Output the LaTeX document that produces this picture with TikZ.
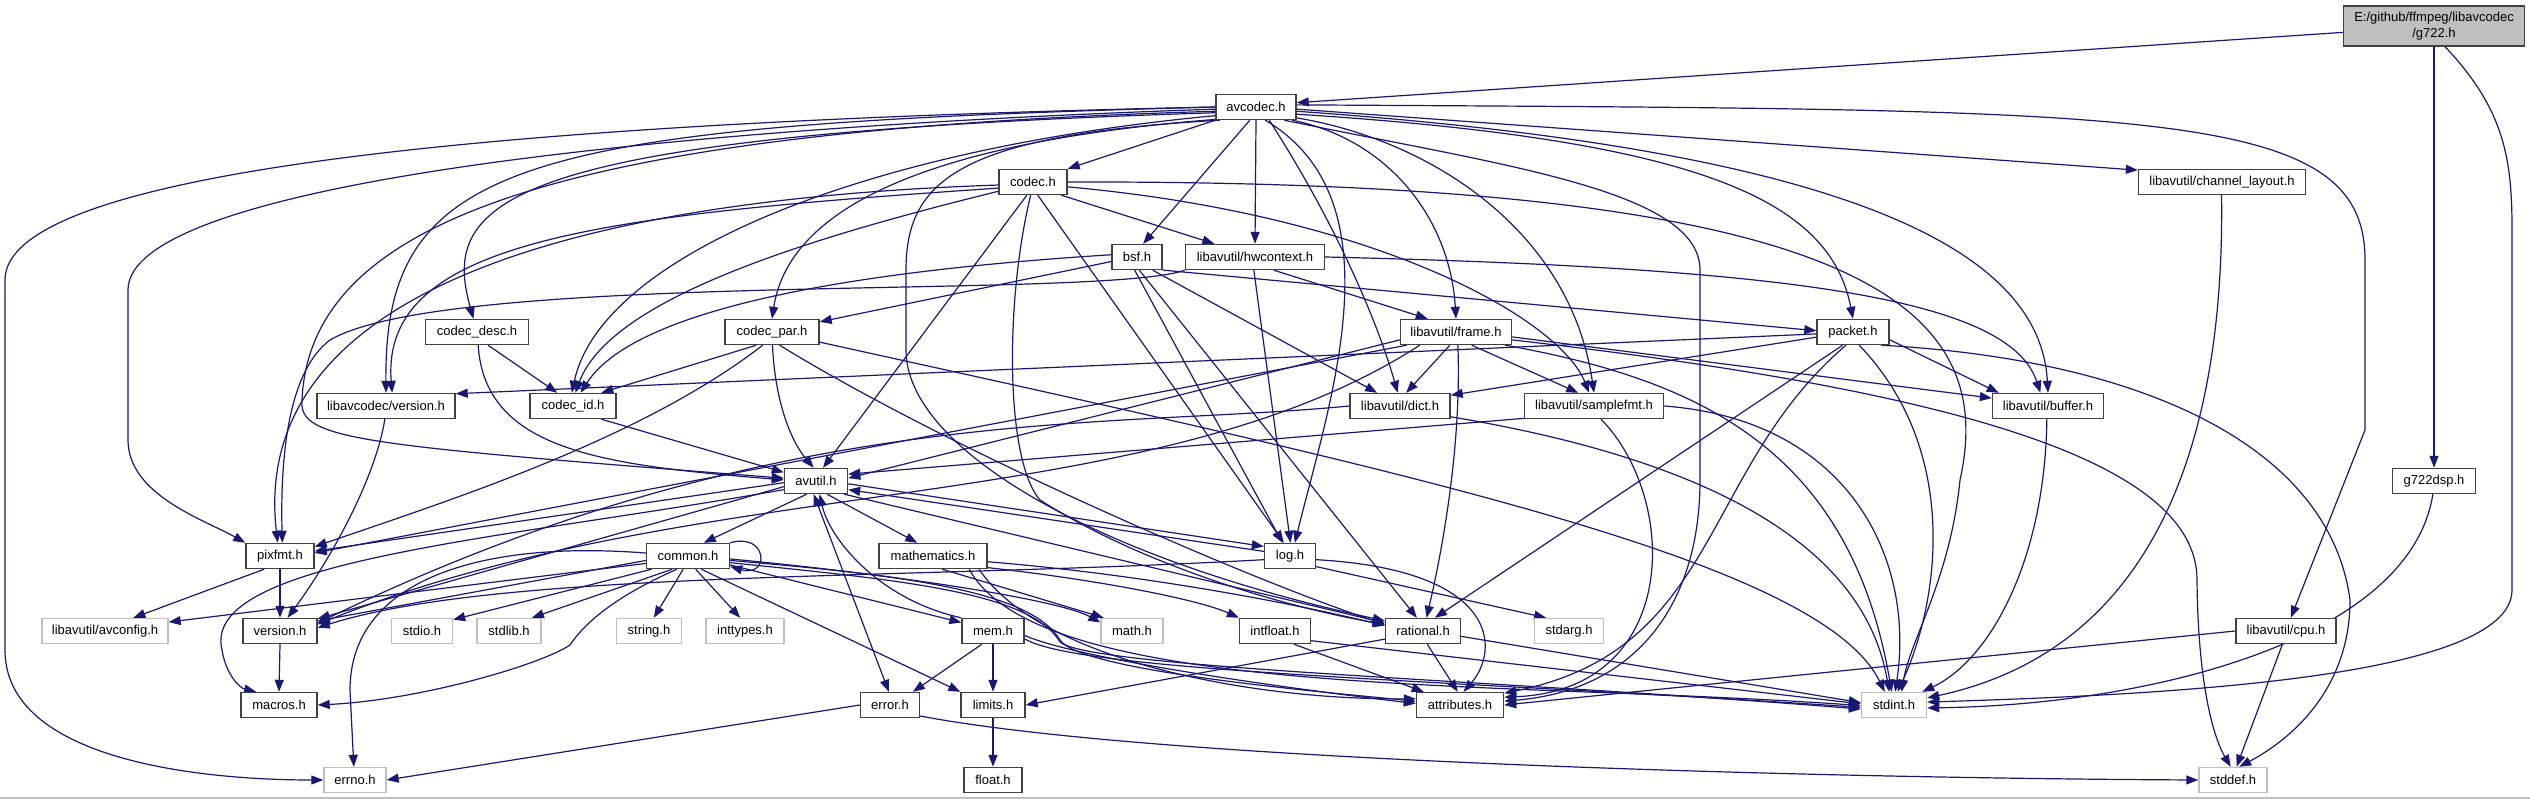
\documentclass[tikz,border=0pt]{standalone}
\usepackage{fontspec}
\setmainfont{Liberation Sans}
\usetikzlibrary{arrows.meta}
\definecolor{edgec}{HTML}{191970}
\definecolor{sysgray}{HTML}{BFBFBF}
\definecolor{rootfill}{HTML}{BFBFBF}
\definecolor{boxline}{HTML}{404040}
\pgfdeclarelayer{edges}
\pgfsetlayers{edges,main}
\begin{document}
\begin{tikzpicture}[x=1pt,y=-1pt,
  box/.style={draw=boxline, fill=white, line width=1.4pt, minimum height=25pt, inner sep=0pt, font=\fontsize{13}{15.5}\selectfont},
  sysbox/.style={box, draw=sysgray},
  dep/.style={draw=edgec, line width=1.2pt, -{Triangle[length=12pt,width=9pt]}},
  depboth/.style={draw=edgec, line width=1.2pt, {Triangle[length=12pt,width=9pt]}-{Triangle[length=12pt,width=9pt]}}]
\useasboundingbox (0,0) rectangle (2530,799);
% ---------------- nodes
\node[box, fill=rootfill, minimum width=181pt, minimum height=40pt, align=center] (g722) at (2434,26) {E:/github/ffmpeg/libavcodec\\/g722.h};
\node[box, minimum width=80pt] (avcodec) at (1256,107) {avcodec.h};
\node[box, minimum width=68pt] (codec) at (1033,182) {codec.h};
\node[box, minimum width=167pt] (chlayout) at (2222,182) {libavutil/channel\_layout.h};
\node[box, minimum width=50pt] (bsf) at (1137,257) {bsf.h};
\node[box, minimum width=139pt] (hwctx) at (1255,257) {libavutil/hwcontext.h};
\node[box, minimum width=103pt] (codecdesc) at (477,332) {codec\_desc.h};
\node[box, minimum width=94pt] (codecpar) at (772,332) {codec\_par.h};
\node[box, minimum width=111pt] (frame) at (1456,332) {libavutil/frame.h};
\node[box, minimum width=72pt] (packet) at (1853,332) {packet.h};
\node[box, minimum width=138pt] (lcversion) at (386,406) {libavcodec/version.h};
\node[box, minimum width=86pt] (codecid) at (573,406) {codec\_id.h};
\node[box, minimum width=100pt] (dict) at (1400,406) {libavutil/dict.h};
\node[box, minimum width=139pt] (samplefmt) at (1594,406) {libavutil/samplefmt.h};
\node[box, minimum width=111pt] (buffer) at (2048,406) {libavutil/buffer.h};
\node[box, minimum width=63pt] (avutil) at (816,481) {avutil.h};
\node[box, minimum width=83pt] (g722dsp) at (2434,481) {g722dsp.h};
\node[box, minimum width=68pt] (pixfmt) at (280,556) {pixfmt.h};
\node[box, minimum width=83pt] (common) at (688,556) {common.h};
\node[box, minimum width=108pt] (mathematics) at (933,556) {mathematics.h};
\node[box, minimum width=51pt] (log) at (1290,556) {log.h};
\node[sysbox, minimum width=126pt] (avconfig) at (105,631) {libavutil/avconfig.h};
\node[box, minimum width=74pt] (version) at (280,631) {version.h};
\node[sysbox, minimum width=61pt] (stdio) at (422,631) {stdio.h};
\node[sysbox, minimum width=64pt] (stdlib) at (509,631) {stdlib.h};
\node[sysbox, minimum width=65pt] (string) at (649,631) {string.h};
\node[sysbox, minimum width=78pt] (inttypes) at (745,631) {inttypes.h};
\node[box, minimum width=62pt] (mem) at (993,631) {mem.h};
\node[sysbox, minimum width=62pt] (math) at (1132,631) {math.h};
\node[box, minimum width=71pt] (intfloat) at (1275,631) {intfloat.h};
\node[box, minimum width=75pt] (rational) at (1423,631) {rational.h};
\node[sysbox, minimum width=69pt] (stdarg) at (1569,631) {stdarg.h};
\node[box, minimum width=100pt] (cpu) at (2286,631) {libavutil/cpu.h};
\node[box, minimum width=76pt] (macros) at (279,705) {macros.h};
\node[box, minimum width=59pt] (error) at (890,705) {error.h};
\node[box, minimum width=64pt] (limits) at (993,705) {limits.h};
\node[box, minimum width=87pt] (attributes) at (1460,705) {attributes.h};
\node[sysbox, minimum width=65pt] (stdint) at (1894,705) {stdint.h};
\node[sysbox, minimum width=62pt] (errno) at (355,780) {errno.h};
\node[box, minimum width=58pt] (float) at (993,780) {float.h};
\node[sysbox, minimum width=68pt] (stddef) at (2233,780) {stddef.h};
% ---------------- edges
\begin{pgfonlayer}{edges}
\fill[white] (0,0) rectangle (2530,799);
\draw[sysgray, line width=1.5pt] (0,798) -- (2530,798);
% g722.h
\draw[dep] (g722.184) -- (avcodec.6);
\draw[dep] (g722.south) -- (g722dsp.north);
\draw[dep] (g722.-62) .. controls (2505,110) and (2512,160) .. (2512,230) -- (2512,590) .. controls (2512,680) and (2150,695) .. (stdint.5);
\draw[dep] (g722dsp.-95) .. controls (2410,640) and (2150,705) .. (stdint.-5);
% avcodec.h
\draw[dep] (avcodec.west) .. controls (600,120) and (5,160) .. (5,280) -- (5,650) .. controls (5,760) and (200,780) .. (errno.west);
\draw[dep] (avcodec.183) .. controls (650,128) and (128,185) .. (128,290) -- (128,440) .. controls (128,495) and (205,520) .. (pixfmt.north west);
\draw[dep] (avcodec.186) .. controls (560,130) and (310,220) .. (302,400) .. controls (298,440) and (360,445) .. (avutil.175);
\draw[dep] (avcodec.180) .. controls (520,125) and (384,160) .. (lcversion.north);
\draw[dep] (avcodec.188) .. controls (500,135) and (440,200) .. (codecdesc.105);
\draw[dep] (avcodec.192) .. controls (850,150) and (600,260) .. (codecid.95);
\draw[dep] (avcodec.south west) -- (codec.north east);
\draw[dep] (avcodec.197) .. controls (950,140) and (790,200) .. (codecpar.north);
\draw[dep] (avcodec.-115) -- (bsf.65);
\draw[dep] (avcodec.south) -- (hwctx.north);
\draw[dep] (avcodec.-55) .. controls (1400,200) and (1330,400) .. (log.70);
\draw[dep] (avcodec.200) .. controls (960,135) and (906,180) .. (906,270) -- (906,350) .. controls (906,450) and (1100,560) .. (rational.165);
\draw[dep] (avcodec.-45) .. controls (1340,230) and (1380,330) .. (dict.100);
\draw[dep] (avcodec.-20) .. controls (1390,140) and (1450,220) .. (frame.north);
\draw[dep] (avcodec.-15) .. controls (1430,140) and (1570,230) .. (samplefmt.north);
\draw[dep] (avcodec.-10) .. controls (1700,140) and (1830,200) .. (packet.north);
\draw[dep] (avcodec.-6) .. controls (1850,150) and (2040,250) .. (buffer.north);
\draw[dep] (avcodec.-3) -- (chlayout.172);
\draw[dep] (avcodec.3) .. controls (2150,110) and (2365,105) .. (2365,260) -- (2365,430) -- (cpu.70);
\draw[dep] (avcodec.-25) .. controls (1500,165) and (1700,190) .. (1700,270) -- (1700,480) .. controls (1700,600) and (1640,690) .. (attributes.5);
% codec.h
\draw[dep] (codec.east) .. controls (1850,180) and (2000,300) .. (1960,480) .. controls (1950,580) and (1910,640) .. (stdint.60);
\draw[dep] (codec.-8) .. controls (1380,215) and (1560,320) .. (samplefmt.110);
\draw[dep] (codec.-25) -- (hwctx.162);
\draw[dep] (codec.-70) -- (log.115);
\draw[dep] (codec.-100) .. controls (1005,300) and (1005,460) .. (1040,500) .. controls (1150,570) and (1300,610) .. (rational.170);
\draw[dep] (codec.-115) -- (avutil.62);
\draw[dep] (codec.185) .. controls (550,200) and (250,300) .. (pixfmt.100);
\draw[dep] (codec.190) .. controls (600,215) and (380,240) .. (lcversion.65);
\draw[dep] (codec.195) .. controls (800,240) and (610,300) .. (codecid.80);
% bsf.h
\draw[dep] (bsf.190) -- (codecpar.12);
\draw[dep] (bsf.175) .. controls (900,268) and (640,300) .. (codecid.60);
\draw[dep] (bsf.-40) -- (dict.150);
\draw[dep] (bsf.-27) -- (packet.178);
\draw[dep] (bsf.-100) -- (log.120);
\draw[dep] (bsf.-80) -- (rational.115);
% hwcontext.h
\draw[dep] (hwctx.east) .. controls (1800,268) and (2010,300) .. (buffer.120);
\draw[dep] (hwctx.-35) -- (frame.155);
\draw[dep] (hwctx.-95) -- (log.88);
\draw[dep] (hwctx.south west) .. controls (1100,300) and (450,270) .. (330,340) .. controls (290,370) and (280,450) .. (pixfmt.80);
% codec_desc.h, codec_id.h, codec_par.h
\draw[dep] (codecdesc.-50) -- (codecid.140);
\draw[dep] (codecdesc.-85) .. controls (485,450) and (600,465) .. (avutil.178);
\draw[dep] (codecid.-25) -- (avutil.165);
\draw[dep] (codecpar.-140) -- (codecid.25);
\draw[dep] (codecpar.-125) .. controls (640,440) and (450,500) .. (pixfmt.15);
\draw[dep] (codecpar.-88) .. controls (775,400) and (790,440) .. (avutil.100);
\draw[dep] (codecpar.-60) .. controls (950,450) and (1250,580) .. (rational.170);
\draw[dep] (codecpar.-12) .. controls (1400,470) and (1820,560) .. (stdint.125);
% lcversion
\draw[dep] (lcversion.-95) .. controls (375,480) and (330,560) .. (version.60);
% frame.h
\draw[dep] (frame.-115) -- (dict.65);
\draw[dep] (frame.-40) -- (samplefmt.140);
\draw[dep] (frame.-82) .. controls (1462,450) and (1440,560) .. (rational.75);
\draw[dep] (frame.-5) -- (buffer.172);
\draw[dep] (frame.-15) .. controls (1700,380) and (1850,450) .. (stdint.100);
\draw[dep] (frame.-8) .. controls (1950,390) and (2197,460) .. (2197,580) .. controls (2198,690) and (2215,740) .. (stddef.100);
\draw[dep] (frame.188) -- (avutil.5);
\draw[dep] (frame.195) -- (pixfmt.5);
\draw[dep] (frame.200) .. controls (1150,520) and (700,470) .. (version.10);
% packet.h
\draw[dep] (packet.188) -- (dict.12);
\draw[dep] (packet.183) -- (lcversion.10);
\draw[dep] (packet.-12) -- (buffer.165);
\draw[dep] (packet.-128) -- (rational.48);
\draw[dep] (packet.-118) .. controls (1700,470) and (1720,650) .. (attributes.15);
\draw[dep] (packet.-65) .. controls (1960,450) and (1940,600) .. (stdint.75);
\draw[dep] (packet.-25) .. controls (2150,360) and (2330,450) .. (2350,600) .. controls (2350,690) and (2290,740) .. (stddef.65);
% dict.h, samplefmt.h, buffer.h, channel_layout.h, cpu.h
\draw[dep] (dict.-12) .. controls (1650,450) and (1860,520) .. (stdint.110);
\draw[dep] (dict.west) .. controls (1100,430) and (780,400) .. (version.12);
\draw[dep] (samplefmt.190) -- (avutil.12);
\draw[dep] (samplefmt.-62) .. controls (1680,500) and (1680,690) .. (attributes.10);
\draw[dep] (samplefmt.east) .. controls (1850,420) and (1915,560) .. (stdint.85);
\draw[dep] (buffer.-95) .. controls (2045,560) and (1990,660) .. (stdint.25);
\draw[dep] (chlayout.-92) .. controls (2225,450) and (2150,650) .. (stdint.12);
\draw[dep] (cpu.west) -- (attributes.0);
\draw[dep] (cpu.-105) -- (stddef.75);
% avutil.h
\draw[dep] (avutil.-125) -- (common.40);
\draw[depboth] (avutil.-100) -- (error.95);
\draw[dep] (avutil.-50) -- (mathematics.140);
\draw[dep] (avutil.-5) -- (log.160);
\draw[dep] (log.170) -- (avutil.-15);
\draw[dep] (avutil.-25) -- (rational.168);
\draw[dep] (avutil.190) -- (version.18);
\draw[dep] (avutil.195) .. controls (500,540) and (200,560) .. (222,650) .. controls (226,675) and (240,688) .. (macros.150);
\draw[dep] (avutil.183) -- (pixfmt.8);
\draw[dep] (mem.north west) .. controls (880,600) and (830,540) .. (avutil.-75);
% common.h
\draw[dep] (common.-160) -- (stdio.20);
\draw[dep] (common.-140) -- (stdlib.30);
\draw[dep] (common.-110) -- (string.70);
\draw[dep] (common.-60) -- (inttypes.110);
\draw[dep] (common.186) -- (version.15);
\draw[dep] (common.190) -- (avconfig.8);
\draw[dep] (common.-130) .. controls (630,590) and (590,615) .. (570,645) .. controls (540,665) and (420,700) .. (macros.east);
\draw[dep] (common.176) .. controls (480,540) and (350,580) .. (350,690) -- (errno.95);
\draw[dep] (common.-12) -- (mem.165);
\draw[dep] (common.-4) .. controls (900,575) and (1060,600) .. (math.165);
\draw[dep] (common.-45) -- (limits.158);
\draw[dep] (common.-6) .. controls (900,575) and (1030,590) .. (1060,640) .. controls (1080,670) and (1300,690) .. (attributes.175);
\draw[dep] (common.-9) .. controls (900,580) and (1030,592) .. (1060,642) .. controls (1090,668) and (1500,680) .. (stdint.187);
\draw[dep] (common.north east) .. controls (768,532) and (770,578) .. (common.-14);
% mathematics.h
\draw[dep] (mathematics.-55) -- (math.155);
\draw[dep] (mathematics.-12) .. controls (1100,580) and (1200,600) .. (intfloat.160);
\draw[dep] (mathematics.-6) .. controls (1150,575) and (1300,605) .. (rational.172);
\draw[dep] (mathematics.-16) .. controls (1040,660) and (1250,700) .. (attributes.172);
\draw[dep] (mathematics.-20) .. controls (1040,700) and (1500,680) .. (stdint.181);
% log.h
\draw[dep] (log.-22) -- (stdarg.150);
\draw[dep] (log.-8) .. controls (1500,570) and (1500,650) .. (attributes.75);
\draw[dep] (log.188) .. controls (900,580) and (500,570) .. (version.5);
% mem.h
\draw[dep] (mem.south) -- (limits.north);
\draw[dep] (mem.-130) -- (error.30);
\draw[dep] (mem.-8) .. controls (1080,660) and (1300,690) .. (attributes.178);
\draw[dep] (mem.-14) .. controls (1080,672) and (1450,680) .. (stdint.184);
% intfloat.h, rational.h
\draw[dep] (intfloat.-35) -- (attributes.160);
\draw[dep] (intfloat.-15) -- (stdint.178);
\draw[dep] (rational.-8) -- (stdint.176);
\draw[dep] (rational.192) -- (limits.east);
\draw[dep] (rational.-72) -- (attributes.100);
% error.h, limits.h, pixfmt.h, version.h
\draw[dep] (error.west) -- (errno.east);
\draw[dep] (error.-20) .. controls (1150,760) and (1800,778) .. (stddef.west);
\draw[dep] (limits.south) -- (float.north);
\draw[dep] (pixfmt.-140) -- (avconfig.25);
\draw[dep] (pixfmt.south) -- (version.north);
\draw[dep] (version.south) -- (macros.north);
\end{pgfonlayer}
\end{tikzpicture}
\end{document}
